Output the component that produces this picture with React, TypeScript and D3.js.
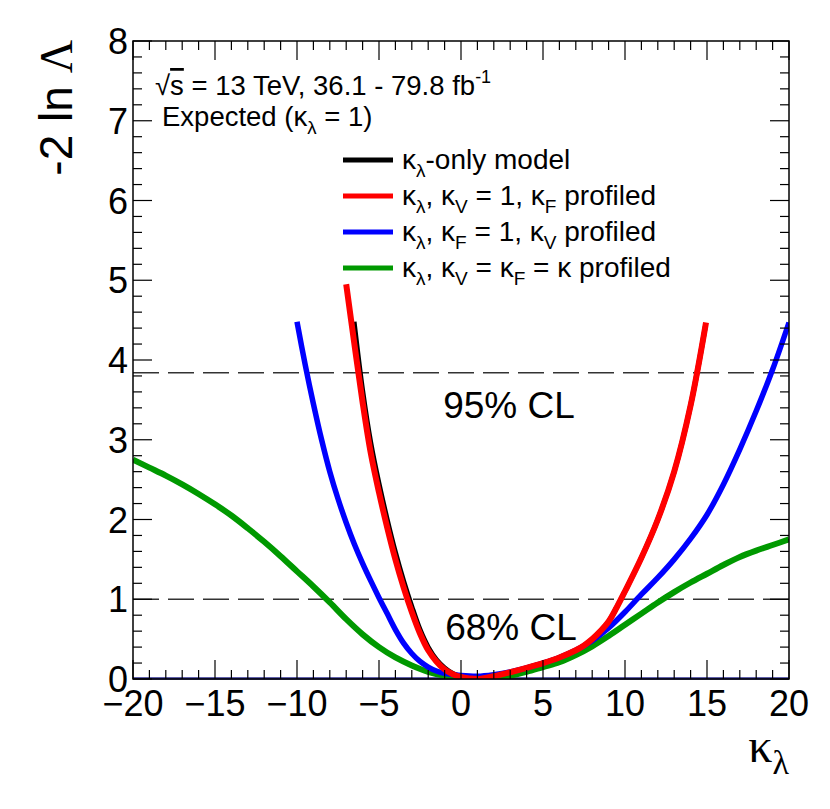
import React from "react";
import * as d3 from "d3";

// ---- data ----
const xTicks = [-20, -15, -10, -5, 0, 5, 10, 15, 20];
const yTicks = [0, 1, 2, 3, 4, 5, 6, 7, 8];

const blackK = [-6.52, -6, -5.5, -5, -4.5, -4, -3.5, -3, -2.5, -2, -1.5, -1, -0.5, 0, 0.5, 1.1, 2, 3, 4, 5, 6, 7, 7.5, 8, 8.5, 9, 9.5, 10, 11, 12, 13, 14, 14.9];
const blackY = [4.48, 3.62, 2.96, 2.45, 2.0, 1.59, 1.23, 0.91, 0.62, 0.4, 0.245, 0.14, 0.07, 0.03, 0.01, 0, 0.035, 0.085, 0.14, 0.2, 0.27, 0.36, 0.42, 0.5, 0.6, 0.72, 0.9, 1.1, 1.52, 2.0, 2.6, 3.43, 4.42];

const redK = [-7.0, -6.5, -6, -5.5, -5, -4.5, -4, -3.5, -3, -2.5, -2, -1.5, -1, -0.5, 0, 0.5, 1.1, 2, 3, 4, 5, 6, 7, 7.5, 8, 8.5, 9, 9.5, 10, 11, 12, 13, 14, 14.94];
const redY = [4.95, 4.2, 3.47, 2.83, 2.34, 1.9, 1.5, 1.15, 0.84, 0.57, 0.36, 0.22, 0.12, 0.06, 0.025, 0.008, 0, 0.035, 0.085, 0.14, 0.2, 0.27, 0.36, 0.42, 0.5, 0.6, 0.72, 0.9, 1.1, 1.52, 2.0, 2.6, 3.43, 4.47];

const blueK = [-10, -9.5, -9, -8.5, -8, -7.5, -7, -6.5, -6, -5.5, -5, -4.5, -4, -3.5, -3, -2.5, -2, -1.5, -1, 0, 1, 2, 3, 4, 5, 6, 7, 8, 9, 10, 11, 12, 13, 14, 15, 16, 17, 18, 19, 20];
const blueY = [4.48, 3.94, 3.45, 3.0, 2.6, 2.26, 1.96, 1.69, 1.45, 1.23, 1.02, 0.82, 0.62, 0.45, 0.32, 0.22, 0.15, 0.1, 0.07, 0.045, 0.035, 0.055, 0.09, 0.14, 0.2, 0.27, 0.36, 0.48, 0.64, 0.84, 1.06, 1.27, 1.5, 1.76, 2.06, 2.44, 2.88, 3.36, 3.88, 4.47];

const greenK = [-20, -19, -18, -17, -16, -15, -14, -13, -12, -11, -10, -9, -8, -7, -6, -5, -4, -3, -2, -1, 0, 1, 2, 3, 4, 5, 6, 7, 8, 9, 10, 11, 12, 13, 14, 15, 16, 17, 18, 19, 20];
const greenY = [2.75, 2.65, 2.55, 2.44, 2.32, 2.19, 2.05, 1.89, 1.72, 1.54, 1.35, 1.16, 0.96, 0.75, 0.56, 0.4, 0.27, 0.17, 0.09, 0.04, 0.01, 0, 0.01, 0.04, 0.09, 0.15, 0.21, 0.3, 0.41, 0.54, 0.68, 0.82, 0.96, 1.09, 1.21, 1.32, 1.43, 1.53, 1.61, 1.68, 1.75];

const clLevels = [1, 3.84];
const clLabels = ["68% CL", "95% CL"];

const W = 830, H = 809;
const L = 133, R = 789, T = 41, B = 679;

const x = d3.scaleLinear().domain([-20, 20]).range([L, R]);
const y = d3.scaleLinear().domain([0, 8]).range([B, T]);

const line = d3
  .line<[number, number]>()
  .x((d) => x(d[0]))
  .y((d) => y(d[1]))
  .curve(d3.curveCatmullRom.alpha(0.5));

const zip = (a: number[], b: number[]) => a.map((v, i) => [v, b[i]] as [number, number]);

const SANS = "'Liberation Sans', Arial, Helvetica, sans-serif";
const SERIF = "'Liberation Serif', 'Times New Roman', serif";

type Seg = [string, boolean];
function rich(segs: Seg[], fs: number) {
  const shift = fs * 0.28;
  const out: React.ReactNode[] = [];
  let prevSub = false;
  segs.forEach(([t, isSub], i) => {
    if (isSub) {
      out.push(
        <tspan key={i} dy={prevSub ? 0 : shift} fontSize={fs * 0.68}>
          {t}
        </tspan>
      );
    } else {
      out.push(
        <tspan key={i} dy={prevSub ? -shift : 0}>
          {t}
        </tspan>
      );
    }
    prevSub = isSub;
  });
  return out;
}

const legendEntries: { c: string; segs: Seg[] }[] = [
  { c: "#000000", segs: [["κ", false], ["λ", true], ["-only model", false]] },
  { c: "#ff0000", segs: [["κ", false], ["λ", true], [", κ", false], ["V", true], [" = 1, κ", false], ["F", true], [" profiled", false]] },
  { c: "#0000ff", segs: [["κ", false], ["λ", true], [", κ", false], ["F", true], [" = 1, κ", false], ["V", true], [" profiled", false]] },
  { c: "#009900", segs: [["κ", false], ["λ", true], [", κ", false], ["V", true], [" = κ", false], ["F", true], [" = κ profiled", false]] },
];

export default function App() {
  const xMinor = d3.range(-20, 21, 1);
  const yMinor = d3.range(0, 8.001, 0.2);
  const MAJ = 19, MIN = 9;

  const series = [
    { k: blackK, v: blackY, c: "#000000", w: 5 },
    { k: greenK, v: greenY, c: "#009900", w: 6 },
    { k: blueK, v: blueY, c: "#0000ff", w: 5.5 },
    { k: redK, v: redY, c: "#ff0000", w: 6 },
  ];

  const LF = 28;
  const TF = 27.5;

  return (
    <svg
      width={W}
      height={H}
      style={{ position: "absolute", left: 0, top: 0, background: "#fff" }}
      fontFamily={SANS}
    >
      <defs>
        <clipPath id="plotclip">
          <rect x={L} y={T} width={R - L} height={B - T} />
        </clipPath>
      </defs>
      <rect x={0} y={0} width={W} height={H} fill="#fff" />

      {/* dashed CL lines */}
      {clLevels.map((v) => (
        <line key={v} x1={L} x2={R} y1={y(v)} y2={y(v)} stroke="#333" strokeWidth={1.5} strokeDasharray="26 9" />
      ))}

      {/* zero line */}
      <line x1={L} x2={R} y1={B - 0.5} y2={B - 0.5} stroke="#2a2a8c" strokeWidth={2.5} />

      {/* curves */}
      <g clipPath="url(#plotclip)">
        {series.map((s, i) => (
          <path key={i} d={line(zip(s.k, s.v)) || ""} fill="none" stroke={s.c} strokeWidth={s.w} strokeLinejoin="round" />
        ))}
      </g>

      {/* frame */}
      <rect x={L} y={T} width={R - L} height={B - T} fill="none" stroke="#000" strokeWidth={1.5} />

      {/* x ticks */}
      {xMinor.map((v) => {
        const maj = v % 5 === 0;
        const len = maj ? MAJ : MIN;
        return (
          <g key={"x" + v} stroke="#000" strokeWidth={1.2}>
            <line x1={x(v)} x2={x(v)} y1={B} y2={B - len} />
            <line x1={x(v)} x2={x(v)} y1={T} y2={T + len} />
          </g>
        );
      })}
      {/* y ticks */}
      {yMinor.map((v, i) => {
        const maj = i % 5 === 0;
        const len = maj ? MAJ : MIN;
        return (
          <g key={"y" + i} stroke="#000" strokeWidth={1.2}>
            <line x1={L} x2={L + len} y1={y(v)} y2={y(v)} />
            <line x1={R} x2={R - len} y1={y(v)} y2={y(v)} />
          </g>
        );
      })}

      {/* tick labels */}
      {xTicks.map((v) => (
        <text key={"xl" + v} x={x(v)} y={716} fontSize={36} textAnchor="middle">
          {v < 0 ? "\u2212" + Math.abs(v) : String(v)}
        </text>
      ))}
      {yTicks.map((v) => (
        <text key={"yl" + v} x={128} y={y(v) + 13} fontSize={36} textAnchor="end">
          {v}
        </text>
      ))}

      {/* axis titles */}
      <text transform="translate(72,40) rotate(-90)" fontSize={46} textAnchor="end">
        -2 ln <tspan fontFamily={SERIF}>Λ</tspan>
      </text>
      <text x={789} y={762} fontSize={48} textAnchor="end" fontFamily={SERIF}>
        κ<tspan dy={12} fontSize={34}>λ</tspan>
      </text>

      {/* CL labels */}
      <text x={511} y={y(clLevels[0]) + 41} fontSize={37} textAnchor="middle">{clLabels[0]}</text>
      <text x={509} y={418} fontSize={37} textAnchor="middle">{clLabels[1]}</text>

      {/* top-left annotation */}
      <text x={155} y={95} fontSize={TF}>
        √<tspan textDecoration="overline" style={{ textDecoration: "overline" }}>s</tspan> = 13 TeV, 36.1 - 79.8 fb<tspan dy={-12} fontSize={18}>-1</tspan>
      </text>
      <text x={162} y={126} fontSize={TF}>
        {rich([["Expected (κ", false], ["λ", true], [" = 1)", false]], TF)}
      </text>

      {/* legend */}
      {legendEntries.map((e, i) => {
        const cy = 160 + i * 36;
        return (
          <g key={i}>
            <line x1={343} x2={393} y1={cy} y2={cy} stroke={e.c} strokeWidth={5} />
            <text x={402} y={cy + 9} fontSize={LF}>
              {rich(e.segs, LF)}
            </text>
          </g>
        );
      })}
    </svg>
  );
}
